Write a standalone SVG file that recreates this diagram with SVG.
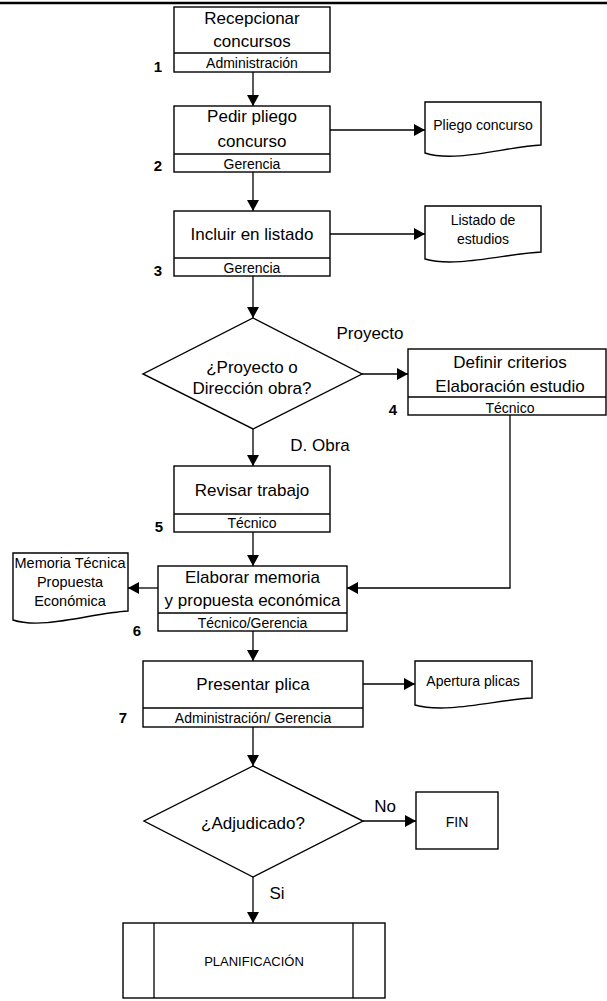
<svg xmlns="http://www.w3.org/2000/svg" width="607" height="1001" viewBox="0 0 607 1001">
<style>
.b{fill:#fff;stroke:#000;stroke-width:1.4}
.d{fill:none;stroke:#000;stroke-width:1.5}
.c{fill:none;stroke:#000;stroke-width:1.3}
text{font-family:"Liberation Sans",Arial,sans-serif;text-anchor:middle;fill:#000}
.t{font-size:17px}
.s{font-size:14px}
.n{font-size:15px;font-weight:bold}
</style>
<defs>
<marker id="ah" markerUnits="userSpaceOnUse" markerWidth="12" markerHeight="12" refX="11" refY="6" orient="auto">
<path d="M0,0 L11,6 L0,12 Z" fill="#000"/>
</marker>
</defs>
<rect width="607" height="1001" fill="#fff"/>
<line x1="0" y1="3" x2="607" y2="3" stroke="#000" stroke-width="2.4"/>

<g id="connectors" class="c">
<line x1="253" y1="72" x2="253" y2="106" marker-end="url(#ah)"/>
<line x1="253" y1="172" x2="253" y2="211" marker-end="url(#ah)"/>
<line x1="253" y1="276" x2="253" y2="318" marker-end="url(#ah)"/>
<line x1="330" y1="130" x2="425" y2="130" marker-end="url(#ah)"/>
<line x1="330" y1="234" x2="425" y2="234" marker-end="url(#ah)"/>
<line x1="362" y1="374" x2="408" y2="374" marker-end="url(#ah)"/>
<line x1="253" y1="429" x2="253" y2="466" marker-end="url(#ah)"/>
<polyline points="510,415 510,588 347,588" marker-end="url(#ah)"/>
<line x1="253" y1="532" x2="253" y2="566" marker-end="url(#ah)"/>
<line x1="158" y1="588" x2="128" y2="588" marker-end="url(#ah)"/>
<line x1="253" y1="631" x2="253" y2="661" marker-end="url(#ah)"/>
<line x1="363" y1="684" x2="415" y2="684" marker-end="url(#ah)"/>
<line x1="253" y1="727" x2="253" y2="766" marker-end="url(#ah)"/>
<line x1="363" y1="821" x2="416" y2="821" marker-end="url(#ah)"/>
<line x1="253" y1="877" x2="253" y2="923" marker-end="url(#ah)"/>
</g>

<g id="n1">
<rect class="b" x="174" y="7" width="156" height="65"/>
<line class="d" x1="174" y1="53" x2="330" y2="53"/>
<text class="t" x="252" y="24">Recepcionar</text>
<text class="t" x="252" y="47">concursos</text>
<text class="s" x="252" y="68">Administración</text>
<text class="n" x="158" y="72">1</text>
</g>

<g id="n2">
<rect class="b" x="174" y="106" width="156" height="66"/>
<line class="d" x1="174" y1="154" x2="330" y2="154"/>
<text class="t" x="252" y="122">Pedir pliego</text>
<text class="t" x="252" y="147">concurso</text>
<text class="s" x="252" y="169">Gerencia</text>
<text class="n" x="158" y="171">2</text>
</g>

<g id="doc-pliego">
<path class="b" d="M425,102 H541 V145 C505,147 455,163 425,153 Z"/>
<text class="s" x="483" y="130">Pliego concurso</text>
</g>

<g id="n3">
<rect class="b" x="174" y="211" width="156" height="65"/>
<line class="d" x1="174" y1="258" x2="330" y2="258"/>
<text class="t" x="252" y="240">Incluir en listado</text>
<text class="s" x="252" y="273">Gerencia</text>
<text class="n" x="158" y="276">3</text>
</g>

<g id="doc-listado">
<path class="b" d="M425,206 H541 V252 C505,254 455,268 425,259 Z"/>
<text class="s" x="483" y="225">Listado de</text>
<text class="s" x="483" y="244">estudios</text>
</g>

<g id="dec1">
<polygon class="b" points="253,318 362,374 253,429 143,374"/>
<text class="t" x="252" y="373">¿Proyecto o</text>
<text class="t" x="252" y="394">Dirección obra?</text>
<text class="t" x="370" y="339">Proyecto</text>
<text class="t" x="320" y="451">D. Obra</text>
</g>

<g id="n4">
<rect class="b" x="408" y="349" width="198" height="66"/>
<line class="d" x1="408" y1="397" x2="606" y2="397"/>
<text class="t" x="510" y="368">Definir criterios</text>
<text class="t" x="510" y="392">Elaboración estudio</text>
<text class="s" x="510" y="413">Técnico</text>
<text class="n" x="393" y="415">4</text>
</g>

<g id="n5">
<rect class="b" x="174" y="466" width="156" height="66"/>
<line class="d" x1="174" y1="514" x2="330" y2="514"/>
<text class="t" x="252" y="496">Revisar trabajo</text>
<text class="s" x="252" y="528">Técnico</text>
<text class="n" x="159" y="532">5</text>
</g>

<g id="n6">
<rect class="b" x="158" y="566" width="189" height="65"/>
<line class="d" x1="158" y1="613" x2="347" y2="613"/>
<text class="t" x="252.5" y="583">Elaborar memoria</text>
<text class="t" x="252.5" y="606">y propuesta económica</text>
<text class="s" x="252.5" y="628">Técnico/Gerencia</text>
<text class="n" x="137" y="636">6</text>
</g>

<g id="doc-memoria">
<path class="b" d="M13,553 H128 V611 C92,613 43,630 13,620 Z"/>
<text class="s" x="70" y="568" style="font-size:14.5px">Memoria Técnica</text>
<text class="s" x="70" y="587" style="font-size:14.5px">Propuesta</text>
<text class="s" x="70" y="606" style="font-size:14.5px">Económica</text>
</g>

<g id="n7">
<rect class="b" x="143" y="661" width="220" height="66"/>
<line class="d" x1="143" y1="708" x2="363" y2="708"/>
<text class="t" x="253" y="690">Presentar plica</text>
<text class="s" x="253" y="723">Administración/ Gerencia</text>
<text class="n" x="123" y="723">7</text>
</g>

<g id="doc-apertura">
<path class="b" d="M415,661 H532 V698 C496,700 446,714 415,705 Z"/>
<text class="s" x="473" y="686">Apertura plicas</text>
</g>

<g id="dec2">
<polygon class="b" points="253,766 363,821 253,877 144,821"/>
<text class="t" x="253" y="829">¿Adjudicado?</text>
<text class="t" x="385" y="812">No</text>
<text class="t" x="277" y="899">Si</text>
</g>

<g id="fin">
<rect class="b" x="416" y="792" width="82" height="57"/>
<text class="s" x="457" y="827">FIN</text>
</g>

<g id="planificacion">
<rect class="b" x="123" y="923" width="262" height="75"/>
<line class="c" x1="154" y1="923" x2="154" y2="998"/>
<line class="c" x1="353" y1="923" x2="353" y2="998"/>
<text x="254" y="966" style="font-size:13px">PLANIFICACIÓN</text>
</g>
</svg>
